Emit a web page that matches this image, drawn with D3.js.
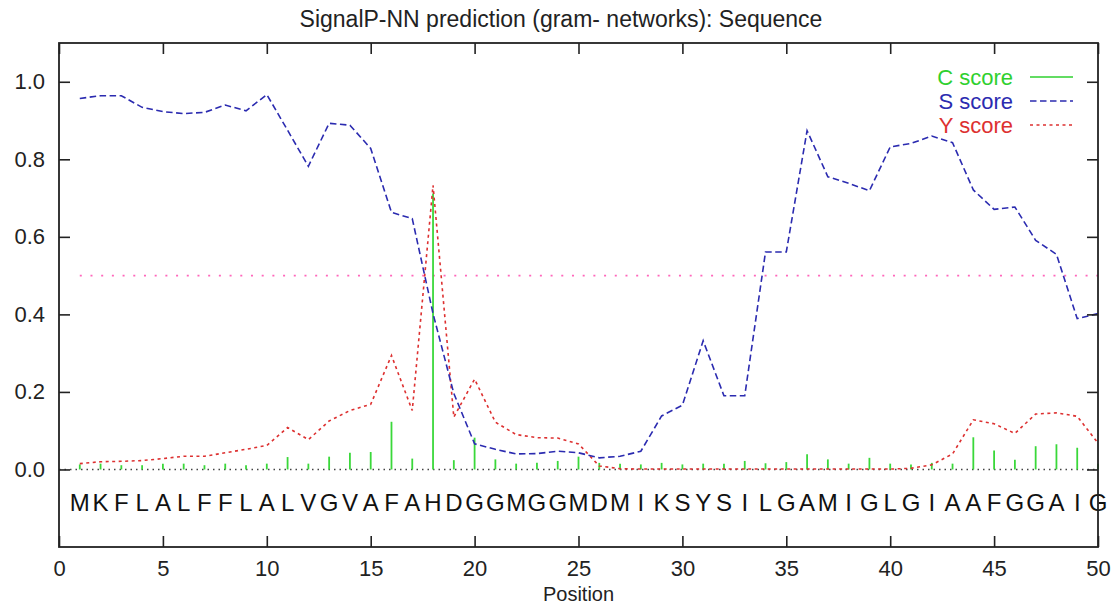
<!DOCTYPE html>
<html><head><meta charset="utf-8">
<script src="https://cdn.jsdelivr.net/npm/d3@7"></script>
<style>
body{margin:0;background:#fff}
svg{display:block}
text{font-family:"Liberation Sans",Arial,Helvetica,sans-serif}
</style>
</head><body>
<svg id="chart" width="1117" height="605"></svg>
<script>
const chartTitle = "SignalP-NN prediction (gram- networks): Sequence";
const xLabel = "Position";
const sequence = ["M","K","F","L","A","L","F","F","L","A",
                  "L","V","G","V","A","F","A","H","D","G",
                  "G","M","G","G","M","D","M","I","K","S",
                  "Y","S","I","L","G","A","M","I","G","L",
                  "G","I","A","A","F","G","G","A","I","G"];
const cScore = [0.013,0.015,0.011,0.011,0.015,0.015,0.011,0.015,0.011,0.015,
                0.032,0.015,0.033,0.043,0.045,0.123,0.028,0.712,0.024,0.082,
                0.026,0.015,0.017,0.022,0.033,0.017,0.015,0.013,0.017,0.013,
                0.015,0.015,0.022,0.016,0.019,0.039,0.026,0.015,0.030,0.015,
                0.013,0.017,0.015,0.083,0.049,0.025,0.060,0.065,0.056,0.015];
const sScore = [0.957,0.964,0.964,0.934,0.923,0.918,0.921,0.940,0.925,0.967,
                0.875,0.782,0.893,0.888,0.828,0.663,0.647,0.402,0.196,0.066,
                0.052,0.040,0.041,0.047,0.043,0.030,0.034,0.047,0.138,0.166,
                0.332,0.190,0.190,0.561,0.561,0.874,0.755,0.738,0.719,0.832,
                0.841,0.860,0.843,0.721,0.671,0.677,0.591,0.555,0.389,0.402];
const yScore = [0.015,0.020,0.021,0.023,0.028,0.034,0.034,0.043,0.052,0.062,
                0.108,0.077,0.125,0.152,0.168,0.294,0.152,0.733,0.135,0.233,
                0.122,0.090,0.082,0.081,0.066,0.009,0.002,0.001,0.001,0.001,
                0.001,0.001,0.001,0.001,0.001,0.001,0.001,0.001,0.001,0.001,
                0.003,0.012,0.040,0.128,0.118,0.093,0.143,0.146,0.137,0.068];
const threshold = [0.5, 0.5];
const thresholdSpan = [1, 50];
const xTicks = [0,5,10,15,20,25,30,35,40,45,50];
const yTicks = [0,0.2,0.4,0.6,0.8,1.0];
const legendLabels = ["C score","S score","Y score"];

const L = 59, R = 1098, T = 43, B = 547;
const svg = d3.select("#chart");

const x = d3.scaleLinear().domain([0,50]).range([L,R]);
const y = d3.scaleLinear().domain([-0.2,1.1]).range([B,T]);

const green = "#2fd02f", blue = "#2b2bb0", red = "#dd3030", pink = "#ff66bb";

// title
svg.append("text").attr("x",561).attr("y",19).attr("dy","0.35em")
  .attr("text-anchor","middle").attr("font-size",23).attr("fill","#222")
  .text(chartTitle);

// zero axis
svg.append("line").attr("x1",x(0)).attr("x2",x(50)).attr("y1",y(0)).attr("y2",y(0))
  .attr("stroke","#444").attr("stroke-width",1.4).attr("stroke-dasharray","1.5,4");

// threshold
svg.append("path").datum(thresholdSpan.map((p,i)=>[p,threshold[i]]))
  .attr("d", d3.line().x(d=>x(d[0])).y(d=>y(d[1])))
  .attr("stroke",pink).attr("stroke-width",1.6).attr("fill","none")
  .attr("stroke-dasharray","2,8.7");

// C impulses
svg.append("g").selectAll("line").data(cScore).join("line")
  .attr("x1",(d,i)=>x(i+1)).attr("x2",(d,i)=>x(i+1))
  .attr("y1",y(0)).attr("y2",d=>y(d))
  .attr("stroke","#3ad83a").attr("stroke-width",1.8);

const line = d3.line().x((d,i)=>x(i+1)).y(d=>y(d));

// Y score
svg.append("path").datum(yScore).attr("d",line)
  .attr("fill","none").attr("stroke",red).attr("stroke-width",1.6)
  .attr("stroke-dasharray","3,3.5");

// S score
svg.append("path").datum(sScore).attr("d",line)
  .attr("fill","none").attr("stroke",blue).attr("stroke-width",1.6)
  .attr("stroke-dasharray","6.5,3.5");

// sequence letters
svg.append("g").selectAll("text").data(sequence).join("text")
  .attr("x",(d,i)=>x(i+1)).attr("y",503).attr("dy","0.35em")
  .attr("text-anchor","middle").attr("font-size",24).attr("fill","#111")
  .text(d=>d);

// axes
const axB = svg.append("g").attr("transform",`translate(0,${B})`)
  .call(d3.axisBottom(x).tickValues(xTicks).tickSize(-11).tickPadding(13).tickFormat(d3.format("d")));
const axT = svg.append("g").attr("transform",`translate(0,${T})`)
  .call(d3.axisTop(x).tickValues(xTicks).tickSize(-11).tickFormat(""));
const axL = svg.append("g").attr("transform",`translate(${L},0)`)
  .call(d3.axisLeft(y).tickValues(yTicks).tickSize(-11).tickPadding(14).tickFormat(d3.format(".1f")));
const axR = svg.append("g").attr("transform",`translate(${R},0)`)
  .call(d3.axisRight(y).tickValues(yTicks).tickSize(-11).tickFormat(""));
[axB,axT,axL,axR].forEach(g=>{
  g.select(".domain").remove();
  g.selectAll(".tick line").attr("stroke","#222").attr("stroke-width",1.6);
  g.selectAll(".tick text").attr("font-size",22).attr("fill","#222")
   .style("font-family",'"Liberation Sans",Arial,sans-serif');
});

// frame
svg.append("rect").attr("x",L).attr("y",T).attr("width",R-L).attr("height",B-T)
  .attr("fill","none").attr("stroke","#222").attr("stroke-width",1.8);

// x label
svg.append("text").attr("x",(L+R)/2).attr("y",594).attr("dy","0.35em")
  .attr("text-anchor","middle").attr("font-size",20).attr("fill","#222").text(xLabel);

// legend
const legendColors = [green, blue, red];
const legendDash = [null, "6.5,3.5", "3,3.5"];
const legendY = [77, 101, 125];
legendLabels.forEach((lab,i)=>{
  svg.append("text").attr("x",1013).attr("y",legendY[i]).attr("dy","0.35em")
    .attr("text-anchor","end").attr("font-size",22).attr("fill",legendColors[i]).text(lab);
  svg.append("line").attr("x1",1030).attr("x2",1073).attr("y1",legendY[i]).attr("y2",legendY[i])
    .attr("stroke",legendColors[i]).attr("stroke-width",1.6)
    .attr("stroke-dasharray",legendDash[i]);
});
</script>
</body></html>
